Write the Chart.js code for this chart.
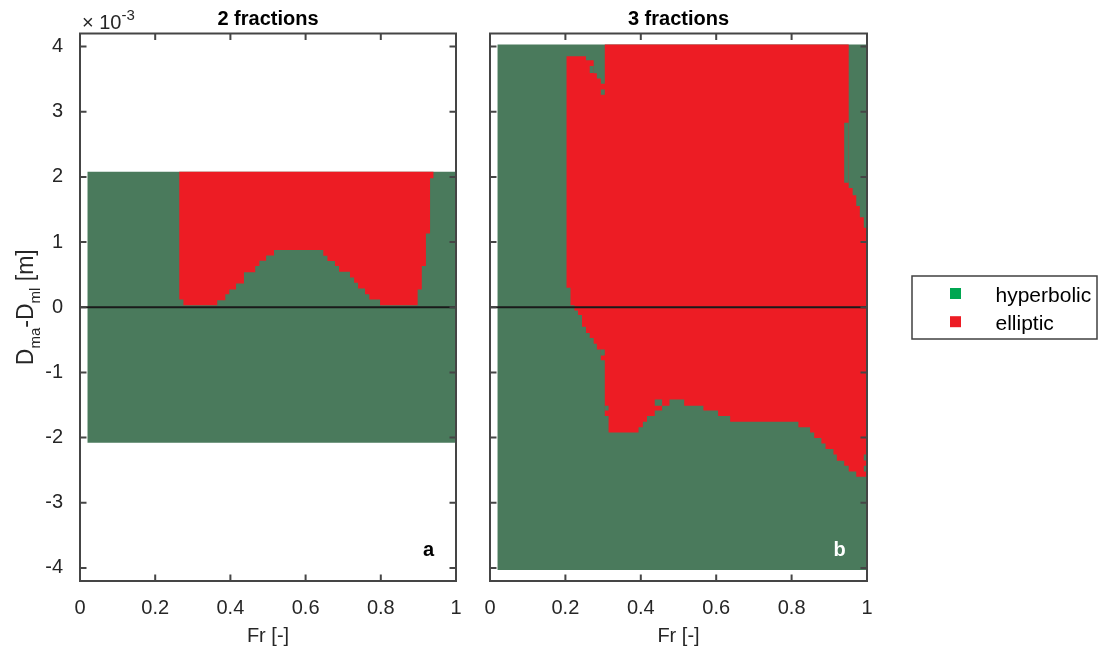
<!DOCTYPE html>
<html>
<head>
<meta charset="utf-8">
<script src="https://cdn.jsdelivr.net/npm/chart.js@4.4.0/dist/chart.umd.min.js"></script>
<style>
  html, body { margin: 0; padding: 0; background: #fff; }
  #wrap { position: relative; width: 1098px; height: 651px; }
  .box { position: absolute; top: 0; height: 651px; }
</style>
</head>
<body>
<div id="wrap">
  <div class="box" style="left:0;width:475px"><canvas id="chartA"></canvas></div>
  <div class="box" style="left:475px;width:623px"><canvas id="chartB"></canvas></div>
</div>
<script>
// Fr range of the computed grid, same for both panels
const frMin = 0.02, frMax = 1.0;
// half height of the computed D_ma - D_ml range (x 1e-3 m)
const dHalfA = 2.08, dHalfB = 4.03;

// panel a: elliptic columns, between Fr edges, from lower bound up to dHalfA
const edgesA = [0.264, 0.275, 0.365, 0.3865, 0.397, 0.415, 0.436, 0.466, 0.477, 0.495,
  0.516, 0.647, 0.658, 0.678, 0.689, 0.718, 0.729, 0.7395, 0.758, 0.7695,
  0.798, 0.898, 0.909, 0.920, 0.931, 0.940];
const loA = [0.118, 0.031, 0.108, 0.200, 0.272, 0.364, 0.538, 0.631, 0.713, 0.795,
  0.877, 0.790, 0.708, 0.631, 0.544, 0.456, 0.374, 0.287, 0.200, 0.118,
  0.031, 0.272, 0.631, 1.133, 1.979];

// panel b: elliptic columns with lower and upper bound
const edgesB = [0.203, 0.2135, 0.224, 0.2335, 0.244, 0.2545, 0.2645, 0.275, 0.2835, 0.294,
  0.3045, 0.3145, 0.394, 0.4055, 0.4165, 0.437, 0.4565, 0.476, 0.515, 0.566,
  0.605, 0.637, 0.818, 0.849, 0.86, 0.879, 0.89, 0.911, 0.92, 0.9395,
  0.9515, 0.962, 0.9715, 0.981, 0.9915, 1.0];
const loB = [0.30, 0.03, -0.05, -0.12, -0.30, -0.395, -0.47, -0.56, -0.65, -0.815,
  -1.67, -1.92, -1.84, -1.755, -1.67, -1.585, -1.51, -1.415, -1.51, -1.585,
  -1.67, -1.755, -1.84, -1.92, -2.005, -2.09, -2.175, -2.26, -2.355, -2.43,
  -2.52, -2.52, -2.60, -2.60, -2.60];
const hiB = [3.85, 3.85, 3.85, 3.85, 3.85, 3.79, 3.79, 3.59, 3.51, 3.43,
  4.03, 4.03, 4.03, 4.03, 4.03, 4.03, 4.03, 4.03, 4.03, 4.03,
  4.03, 4.03, 4.03, 4.03, 4.03, 4.03, 4.03, 4.03, 4.03, 4.03,
  1.83, 1.72, 1.555, 1.38, 1.22];
// hyperbolic pockets left inside the elliptic area: [fr0, fr1, d0, d1]
const pocketsB = [
  [0.2645, 0.275, 3.595, 3.70],
  [0.294, 0.3045, 3.26, 3.34],
  [0.294, 0.3045, -0.74, -0.65],
  [0.3045, 0.3145, -1.585, -1.51],
  [0.437, 0.4565, -1.51, -1.415],
  [0.9395, 0.9515, 1.91, 2.83],
  [0.9915, 1.0, -2.35, -2.26],
  [0.9915, 1.0, -2.52, -2.43]
];

const xTicks = [0, 0.2, 0.4, 0.6, 0.8, 1];
const yTicks = [-4, -3, -2, -1, 0, 1, 2, 3, 4];
const legendNames = ['hyperbolic', 'elliptic'];

const GREEN = '#4a7a5c';
const RED = '#ed1c24';
const LEGEND_COLORS = ['#00a651', '#ed1c24'];
const TEXT = '#262626';
const FONT = "'Liberation Sans', Arial, sans-serif";

Chart.defaults.font.family = FONT;
Chart.defaults.color = TEXT;

function rect(x0, x1, y0, y1) {
  return [{x: x0, y: y0}, {x: x1, y: y0}, {x: x1, y: y1}, {x: x0, y: y1}];
}

// outline of a set of columns: bottom stairs left to right, top stairs back
function columnShape(edges, lo, hi) {
  const bottom = [], top = [];
  lo.forEach((v, i) => {
    bottom.push({x: edges[i], y: v}, {x: edges[i + 1], y: v});
    top.push({x: edges[i], y: hi[i]}, {x: edges[i + 1], y: hi[i]});
  });
  return bottom.concat(top.reverse());
}

function area(data, color, order) {
  return {data, backgroundColor: color, borderWidth: 0, pointRadius: 0,
    showLine: true, fill: 'shape', order};
}

function panelDatasets(bgHalf, edges, lo, hi, pockets) {
  return [
    {data: [{x: 0, y: 0}, {x: 1, y: 0}], borderColor: '#1a1a1a', borderWidth: 2,
      pointRadius: 0, showLine: true, fill: false, order: 0},
    ...pockets.map(p => area(rect(p[0], p[1], p[2], p[3]), GREEN, 1)),
    area(columnShape(edges, lo, hi), RED, 2),
    area(rect(frMin, frMax, -bgHalf, bgHalf), GREEN, 3)
  ];
}

function scales(yLabels, yWidth) {
  return {
    x: {
      type: 'linear', min: 0, max: 1,
      grid: {display: false}, border: {display: false},
      ticks: {padding: 7, font: {size: 20}, color: TEXT, maxRotation: 0, autoSkip: false,
        callback: v => String(v)},
      title: {display: true, text: 'Fr [-]', font: {size: 20}, color: TEXT,
        padding: {top: 0, bottom: 3}},
      afterBuildTicks: s => { s.ticks = xTicks.map(v => ({value: v})); },
      afterFit: s => { s.height = 70; s.paddingLeft = 0; s.paddingRight = 0; }
    },
    y: {
      type: 'linear', min: -4.2, max: 4.2,
      grid: {display: false}, border: {display: false},
      ticks: {display: yLabels, padding: 9, font: {size: 20}, color: TEXT,
        callback: v => String(v)},
      afterBuildTicks: s => { s.ticks = yTicks.map(v => ({value: v})); },
      afterFit: s => { s.width = yWidth; s.paddingTop = 0; s.paddingBottom = 0; }
    }
  };
}

// box, inward ticks on all four sides
const framePlugin = {
  id: 'frame',
  afterDatasetsDraw(chart) {
    const {ctx, chartArea: a, scales: {x, y}} = chart;
    const t = 6.5;
    ctx.save();
    ctx.strokeStyle = '#454545';
    ctx.lineWidth = 2;
    ctx.beginPath();
    x.ticks.forEach(tk => {
      const px = x.getPixelForValue(tk.value);
      ctx.moveTo(px, a.bottom); ctx.lineTo(px, a.bottom - t);
      ctx.moveTo(px, a.top); ctx.lineTo(px, a.top + t);
    });
    y.ticks.forEach(tk => {
      const py = y.getPixelForValue(tk.value);
      ctx.moveTo(a.left, py); ctx.lineTo(a.left + t, py);
      ctx.moveTo(a.right, py); ctx.lineTo(a.right - t, py);
    });
    ctx.stroke();
    ctx.strokeRect(a.left, a.top, a.right - a.left, a.bottom - a.top);
    ctx.restore();
  }
};

// runs: [text, size, dy]
function runsWidth(ctx, runs) {
  return runs.reduce((w, r) => { ctx.font = r[1] + 'px ' + FONT; return w + ctx.measureText(r[0]).width; }, 0);
}
function drawRuns(ctx, runs, x, y) {
  let cx = x;
  runs.forEach(r => {
    ctx.font = r[1] + 'px ' + FONT;
    ctx.fillText(r[0], cx, y + r[2]);
    cx += ctx.measureText(r[0]).width;
  });
}

const panelText = {
  id: 'panelText',
  afterDraw(chart, args, opts) {
    const {ctx, chartArea: a} = chart;
    ctx.save();
    ctx.textBaseline = 'alphabetic';
    ctx.textAlign = 'center';
    ctx.fillStyle = '#000';
    ctx.font = 'bold 20px ' + FONT;
    ctx.fillText(opts.title, (a.left + a.right) / 2, 24.5);
    ctx.fillStyle = opts.tagColor;
    ctx.fillText(opts.tag, a.right - 27.5, a.bottom - 25);

    ctx.textAlign = 'left';
    ctx.fillStyle = TEXT;
    if (opts.yTitle) {
      const runs = [['D', 23, 0], ['ma', 15, 7], ['-D', 23, 0], ['ml', 15, 7], [' [m]', 23, 0]];
      const w = runsWidth(ctx, runs);
      ctx.save();
      ctx.translate(32.5, (a.top + a.bottom) / 2);
      ctx.rotate(-Math.PI / 2);
      drawRuns(ctx, runs, -w / 2, 0);
      ctx.restore();
      drawRuns(ctx, [['\u00d7 10', 20, 0], ['-3', 15, -9]], a.left + 2, 28.5);
    }
    if (opts.legend) {
      const L = 912 - 475, T = 276, R = 1097 - 475, B = 339;
      ctx.fillStyle = '#fff';
      ctx.fillRect(L, T, R - L, B - T);
      ctx.strokeStyle = '#404040';
      ctx.lineWidth = 1.5;
      ctx.strokeRect(L, T, R - L, B - T);
      legendNames.forEach((name, i) => {
        const cy = 293.5 + i * 28.2;
        ctx.fillStyle = LEGEND_COLORS[i];
        ctx.fillRect(950 - 475, cy - 5.5, 11, 11);
        ctx.fillStyle = '#000';
        ctx.font = '21px ' + FONT;
        ctx.fillText(name, 995.5 - 475, cy + 8.5);
      });
    }
    ctx.restore();
  }
};

function makeChart(id, datasets, yLabels, yWidth, padRight, text) {
  return new Chart(document.getElementById(id), {
    type: 'scatter',
    data: {datasets},
    options: {
      responsive: true,
      maintainAspectRatio: false,
      animation: false,
      layout: {padding: {top: 33.5, right: padRight, left: 0, bottom: 0}},
      scales: scales(yLabels, yWidth),
      plugins: {legend: {display: false}, tooltip: {enabled: false}, panelText: text}
    },
    plugins: [framePlugin, panelText]
  });
}

makeChart('chartA', panelDatasets(dHalfA, edgesA, loA, loA.map(() => dHalfA), []),
  true, 80, 19, {title: '2 fractions', tag: 'a', tagColor: '#000', yTitle: true});
makeChart('chartB', panelDatasets(dHalfB, edgesB, loB, hiB, pocketsB),
  false, 15, 231, {title: '3 fractions', tag: 'b', tagColor: '#fff', legend: true});
</script>
</body>
</html>
